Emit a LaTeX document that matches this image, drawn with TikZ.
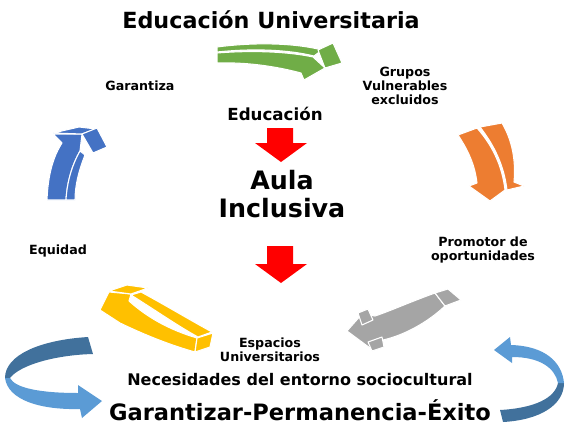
\documentclass[tikz,border=0pt]{standalone}
\usepackage{fontspec}
\setmainfont{DejaVu Sans}
\usepackage{tikz}
\usetikzlibrary{positioning}
\definecolor{leafgreen}{HTML}{70AD47}
\definecolor{royal}{HTML}{4472C4}
\definecolor{tangerine}{HTML}{ED7D31}
\definecolor{silver}{HTML}{A5A5A5}
\definecolor{gold}{HTML}{FFC000}
\definecolor{skyblue}{HTML}{5B9BD5}
\definecolor{steelblue}{HTML}{41719C}

\begin{document}
\begin{tikzpicture}[x=0.75pt, y=-0.75pt]
        \tikzstyle{lbl}=[font=\bfseries\fontsize{9.5}{10.5}\selectfont, align=center, inner sep=0pt]
        \tikzstyle{face}=[draw=white, line width=0.8pt, line join=round]
        \useasboundingbox (0,0) rectangle (586,436);

        % Texts
        \node[lbl, font=\bfseries\fontsize{16.7}{20}\selectfont] (title) at (271,20) {Educación Universitaria};
        \node[lbl] (garantiza) at (140,86) {Garantiza};
        \node[lbl] (grupos) at (405,86) {Grupos\\Vulnerables\\excluidos};
        \node[lbl, font=\bfseries\fontsize{12.5}{14}\selectfont] (educ) at (275,114) {Educación};
        \node[lbl, font=\bfseries\fontsize{19}{21}\selectfont] (aula) at (282,194) {Aula\\Inclusiva};
        \node[lbl] (equidad) at (58,251) {Equidad};
        \node[lbl] (promotor) at (483,250) {Promotor de\\oportunidades};
        \node[lbl] (espacios) at (270,350) {Espacios\\Universitarios};
        \node[lbl, font=\bfseries\fontsize{12}{14}\selectfont] (necesidades) at (300,380) {Necesidades del entorno sociocultural};
        \node[lbl, font=\bfseries\fontsize{16.9}{20}\selectfont] (permanencia) at (300,410) {Garantizar-Permanencia-Éxito};

        % Green arrow (top)
        \fill[leafgreen, face] (217,47) .. controls (255,42) and (295,43) .. (322,50) -- (314,56) .. controls (290,50) and (255,48) .. (217,52) -- cycle;
        \fill[leafgreen, face] (217,53) .. controls (255,50) and (290,52) .. (313,57) -- (325,68) -- (304,80) -- (301,73) .. controls (275,66) and (245,62) .. (217,63) -- cycle;
        \fill[leafgreen, face] (318,50) -- (333,43) -- (342,63) -- (325,68) -- cycle;

        % Orange arrow (right)
        \fill[tangerine, face] (458,135) .. controls (468,150) and (475,165) .. (477,183) -- (469,186) -- (490,201) -- (505,190) .. controls (502,165) and (492,145) .. (477,128) -- cycle;
        \fill[tangerine, face] (480,127) -- (502,123) .. controls (512,140) and (516,160) .. (514,182) -- (524,186) -- (507,190) .. controls (504,165) and (494,145) .. (480,127) -- cycle;

        % Gray arrow (bottom right)
        \fill[silver, face] (435,293) .. controls (410,302) and (390,311) .. (375,316) -- (362,314) -- (347,331) -- (370,348) -- (383,340) .. controls (405,335) and (428,322) .. (445,306) -- cycle;
        \fill[silver, face] (358,313) -- (368,309) -- (373,320) -- (362,325) -- cycle;
        \fill[silver, face] (368,342) -- (382,337) -- (384,347) -- (372,351) -- cycle;
        \fill[silver, face] (435,293) -- (448,289) -- (461,300) -- (445,306) -- cycle;

        % Yellow arrow (bottom left)
        \fill[gold, face] (109,292) -- (100,310) -- (120,323) .. controls (145,335) and (170,345) .. (195,352) -- (197,338) .. controls (170,330) and (148,318) .. (129,301) -- (131,294) -- cycle;
        \fill[gold, face] (131,295) .. controls (155,310) and (178,326) .. (198,337) -- (212,332) .. controls (190,320) and (165,305) .. (141,292) -- cycle;
        \fill[gold, face] (109,291) -- (127,285) -- (148,288) -- (131,294) -- cycle;
        \fill[gold, face] (197,338) -- (213,333) -- (210,347) -- (195,352) -- cycle;

        % Blue arrow (left)
        \fill[royal, face] (47,200) .. controls (48,175) and (53,157) .. (62,143) -- (53,134) -- (82,134) -- (80,151) .. controls (72,165) and (67,182) .. (66,200) -- cycle;
        \fill[royal, face] (66,200) .. controls (67,182) and (72,165) .. (80,151) -- (85,155) .. controls (79,170) and (75,185) .. (75,200) -- cycle;
        \fill[royal, face] (53,133) -- (79,127) -- (96,129) -- (82,134) -- cycle;
        \fill[royal, face] (82,134) -- (97,128) -- (107,147) -- (93,153) -- cycle;

        % Red arrows (centre)
        \fill[red] (267,128) -- (293,128) -- (293,143) -- (307,143) -- (281,162) -- (255,143) -- (267,143) -- cycle;
        \fill[red] (267,246) -- (293,246) -- (293,264) -- (307,264) -- (281,283) -- (255,264) -- (267,264) -- cycle;

        % Ribbon arrows (bottom)
        \fill[steelblue] (88,337) .. controls (40,340) and (5,355) .. (5,378) -- (10,378) .. controls (20,365) and (55,355) .. (93,354) -- cycle;
        \fill[skyblue] (10,378) .. controls (15,388) and (40,393) .. (78,393) -- (78,385) -- (102,401) -- (82,418) -- (80,409) .. controls (40,410) and (8,400) .. (5,378) -- cycle;
        \fill[steelblue] (500,410) .. controls (535,408) and (555,398) .. (558,383) -- (564,383) .. controls (564,405) and (540,420) .. (503,422) -- cycle;
        \fill[skyblue] (564,383) .. controls (562,362) and (545,346) .. (511,345) -- (510,337) -- (494,350) -- (512,363) -- (512,357) .. controls (540,357) and (555,368) .. (558,383) -- cycle;
    \end{tikzpicture}
\end{document}
